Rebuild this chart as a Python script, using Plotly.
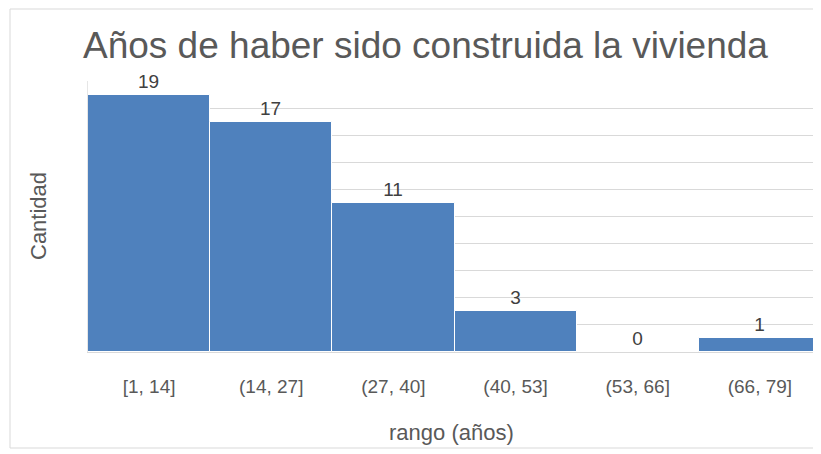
import plotly.graph_objects as go

categories = ["[1, 14]", "(14, 27]", "(27, 40]", "(40, 53]", "(53, 66]", "(66, 79]"]
counts = [19, 17, 11, 3, 0, 1]

title_text = "Años de haber sido construida la vivienda"
x_title = "rango (años)"
y_title = "Cantidad"

OFF = 8  # page body margin
W, H = 821 - OFF, 454 - OFF
ml, mr, mt = 88 - OFF, 0, 81 - OFF
mb = H - (352 - OFF)
pw = W - ml - mr
ph = H - mt - mb

def px_x(x):
    return (x - OFF - ml) / pw

def px_y(y):
    return (H - mb - (y - OFF)) / ph

FONT = "Liberation Sans, Arial, sans-serif"

fig = go.Figure(go.Bar(
    x=categories,
    y=counts,
    marker=dict(color="#4F81BD", line=dict(color="white", width=1)),
    text=[str(c) for c in counts],
    textposition="outside",
    textfont=dict(size=19, color="#404040", family=FONT),
    cliponaxis=False,
))

fig.update_layout(
    width=W, height=H,
    margin=dict(l=ml, r=mr, t=mt, b=mb),
    paper_bgcolor="white", plot_bgcolor="white",
    bargap=0.0,
    showlegend=False,
    font=dict(family=FONT, color="#595959"),
    xaxis=dict(
        showgrid=False, showline=True, linecolor="#d9d9d9", linewidth=1,
        ticks="", tickfont=dict(size=19, color="#595959", family=FONT),
        ticklabelstandoff=17,
    ),
    yaxis=dict(
        range=[0, 20], dtick=2, showgrid=True, gridcolor="#d9d9d9", gridwidth=1,
        showticklabels=False, zeroline=False, showline=True, linecolor="#e6e6e6",
    ),
    shapes=[dict(
        type="rect", xref="paper", yref="paper",
        x0=px_x(10), x1=px_x(850), y0=px_y(448), y1=px_y(9),
        line=dict(color="#d9d9d9", width=1), fillcolor="rgba(0,0,0,0)", layer="below",
    )],
    annotations=[
        dict(text=title_text, xref="paper", yref="paper", x=px_x(425), y=px_y(45),
             showarrow=False, font=dict(size=37, color="#595959", family=FONT),
             xanchor="center", yanchor="middle"),
        dict(text=x_title, xref="paper", yref="paper", x=px_x(451), y=px_y(432),
             showarrow=False, font=dict(size=22, color="#595959", family=FONT),
             xanchor="center", yanchor="middle"),
        dict(text=y_title, xref="paper", yref="paper", x=px_x(38), y=px_y(216),
             showarrow=False, textangle=-90, font=dict(size=22, color="#595959", family=FONT),
             xanchor="center", yanchor="middle"),
    ],
)

fig.write_html("out.html")
